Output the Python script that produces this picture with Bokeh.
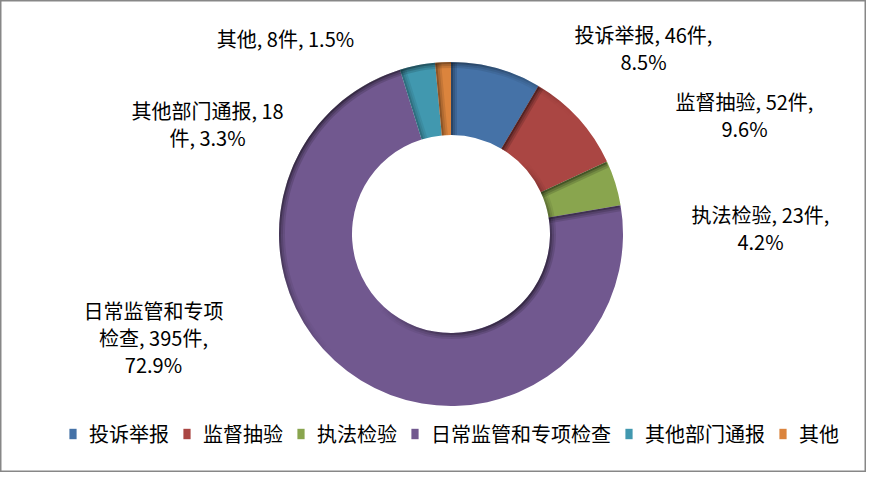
import numpy as np
from bokeh.plotting import figure
from bokeh.models import ColumnDataSource, Range1d, Legend, LegendItem
from bokeh.core.properties import value
from bokeh.embed import file_html
from bokeh.resources import INLINE

# ---- data ----
categories = ["投诉举报", "监督抽验", "执法检验", "日常监管和专项检查", "其他部门通报", "其他"]
counts = [46, 52, 23, 395, 18, 8]
colors = ["#4572A7", "#AA4643", "#89A54E", "#71588F", "#4198AF", "#DB843D"]
# where each data label wraps (character positions in the full label text)
label_breaks = [[10], [10], [10], [7, 16], [10], []]

# ---- layout ----
W, H = 866, 472
FONT = "Noto Sans CJK SC"


def fx(px):
    return px


def fy(py):
    return H - py


label_px = [643, 744, 760, 153, 207, 285]
label_py = [47.5, 114, 227.5, 337, 123, 38]
LINE_H = 27

total = sum(counts)
fractions = [c / total for c in counts]
cum = np.cumsum([0.0] + fractions)
start = np.pi / 2 - 2 * np.pi * cum[:-1]
end = np.pi / 2 - 2 * np.pi * cum[1:]

src = ColumnDataSource(dict(cat=categories, count=counts, color=colors,
                            start=start, end=end))

p = figure(width=W, height=H, x_range=Range1d(0, W), y_range=Range1d(0, H),
           output_backend="svg", toolbar_location=None, min_border=0)
p.axis.visible = False
p.grid.visible = False
p.outline_line_color = "#878787"
p.outline_line_width = 2
p.background_fill_color = "white"

cx, cy = fx(450.5), fy(233.5)
R_OUT, R_IN = 172, 99
ring = p.annular_wedge(x=cx, y=cy, inner_radius=R_IN, outer_radius=R_OUT,
                       start_angle="start", end_angle="end", direction="clock",
                       fill_color="color", line_color=None, source=src)

# ---- inner-shadow (bevel) effect: darken edges facing up-left ----
LIGHT = np.array([-1.0, 1.0]) / np.sqrt(2)
LAYERS = [(6, 0.15), (4, 0.18), (2, 0.30)]
NSEG = 120
phis = np.linspace(0, 2 * np.pi, NSEG + 1)
mids = (phis[:-1] + phis[1:]) / 2
dot_out = np.cos(mids) * LIGHT[0] + np.sin(mids) * LIGHT[1]
for w, a in LAYERS:
    m = dot_out > 0
    p.arc(x=cx, y=cy, radius=R_OUT - w / 2, start_angle=phis[:-1][m], end_angle=phis[1:][m],
          line_color="black", line_width=w, line_alpha=a * dot_out[m])
    m2 = -dot_out > 0
    p.arc(x=cx, y=cy, radius=R_IN + w / 2, start_angle=phis[:-1][m2], end_angle=phis[1:][m2],
          line_color="black", line_width=w, line_alpha=a * (-dot_out[m2]))

for w, a in LAYERS:
    x0s, y0s, x1s, y1s, al = [], [], [], [], []
    for s, e in zip(start, end):
        # start edge: wedge lies clockwise of it
        n = np.array([-np.sin(s), np.cos(s)])
        d = n @ LIGHT
        if d > 0:
            off = -n * w / 2
            x0s.append(cx + R_IN * np.cos(s) + off[0]); y0s.append(cy + R_IN * np.sin(s) + off[1])
            x1s.append(cx + (R_OUT - 1) * np.cos(s) + off[0]); y1s.append(cy + (R_OUT - 1) * np.sin(s) + off[1])
            al.append(a * d)
        n = np.array([np.sin(e), -np.cos(e)])
        d = n @ LIGHT
        if d > 0:
            off = -n * w / 2
            x0s.append(cx + R_IN * np.cos(e) + off[0]); y0s.append(cy + R_IN * np.sin(e) + off[1])
            x1s.append(cx + (R_OUT - 1) * np.cos(e) + off[0]); y1s.append(cy + (R_OUT - 1) * np.sin(e) + off[1])
            al.append(a * d)
    p.segment(x0=x0s, y0=y0s, x1=x1s, y1=y1s, line_color="black",
              line_width=w, line_alpha=al)

# ---- data labels ----
tx, ty, tt = [], [], []
for i, (cat, c, f) in enumerate(zip(categories, counts, fractions)):
    full = f"{cat}, {c}件, {100 * f:.1f}%"
    cuts = [0] + label_breaks[i] + [len(full)]
    lines = [full[a:b].strip() for a, b in zip(cuts[:-1], cuts[1:])]
    n = len(lines)
    for k, ln in enumerate(lines):
        tx.append(fx(label_px[i]))
        ty.append(fy(label_py[i] + (k - (n - 1) / 2) * LINE_H))
        tt.append(ln)

p.text(x=tx, y=ty, text=tt, text_font=value(FONT), text_font_size="20px",
       text_align="center", text_baseline="middle", text_color="black")

# ---- legend ----
items = [LegendItem(label=cat, renderers=[ring], index=i) for i, cat in enumerate(categories)]
legend = Legend(items=items, orientation="horizontal", location=(68, 24),
                glyph_width=9, glyph_height=13, label_standoff=12, spacing=13,
                padding=0, margin=0, border_line_alpha=0, background_fill_alpha=0,
                label_text_font=FONT, label_text_font_size="20px",
                label_text_color="black")
p.add_layout(legend)

open("out.html", "w").write(file_html(p, INLINE))
